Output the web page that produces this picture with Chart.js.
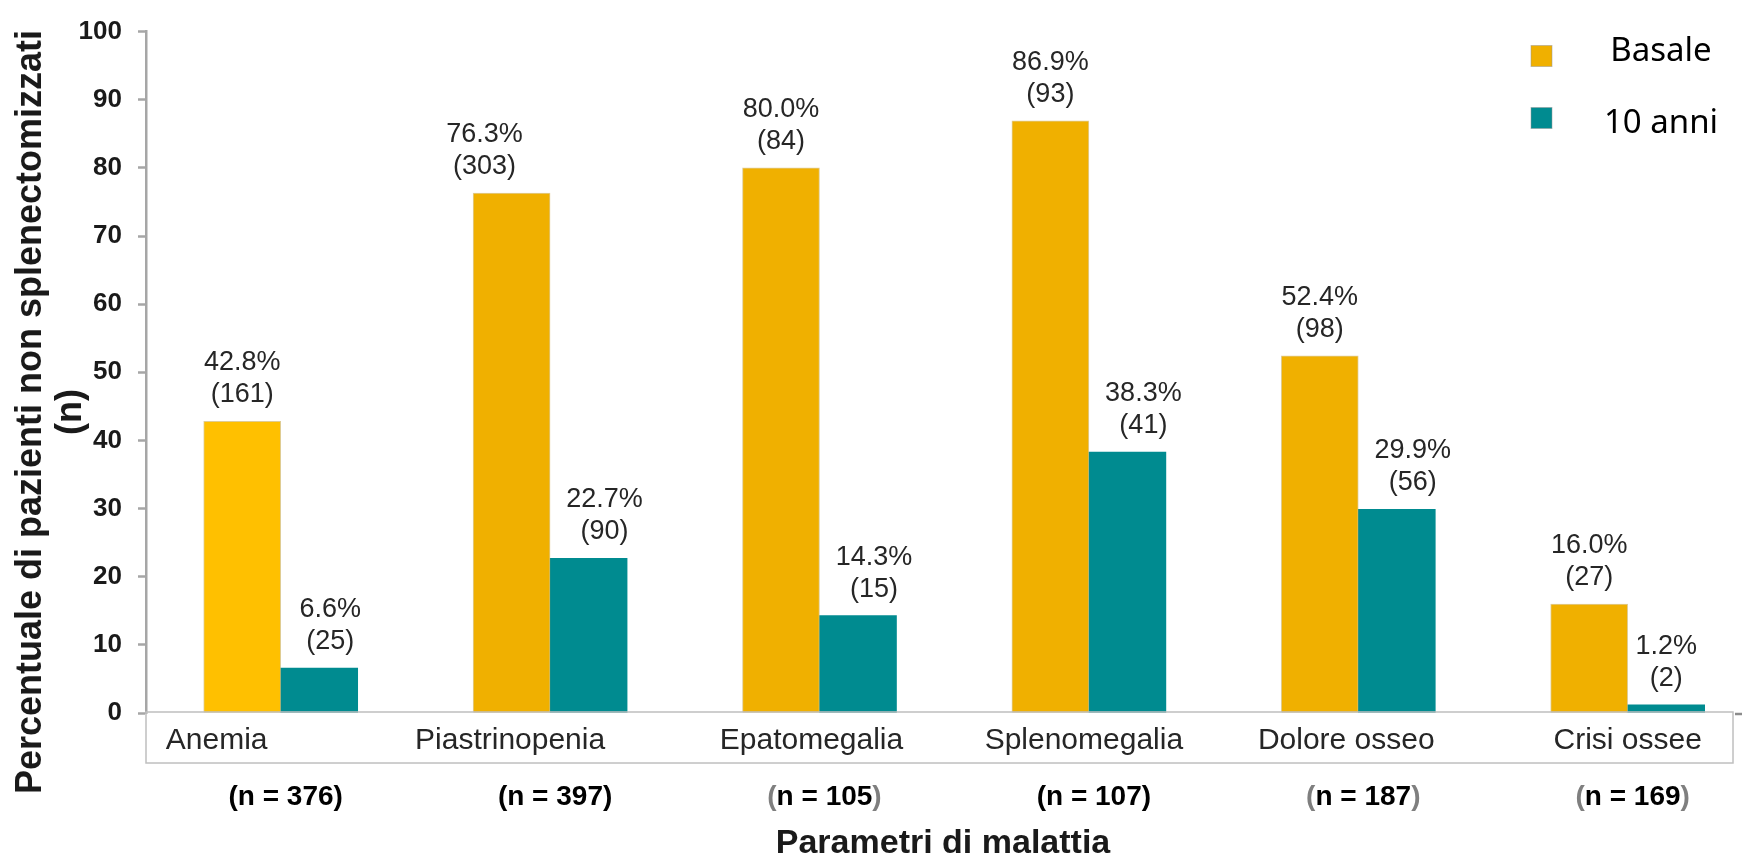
<!DOCTYPE html>
<html>
<head>
<meta charset="utf-8">
<script src="https://cdn.jsdelivr.net/npm/chart.js@4/dist/chart.umd.min.js"></script>
<style>
  html, body { margin: 0; padding: 0; background: #fff; }
  #wrap { width: 1742px; height: 856px; position: relative; }
</style>
</head>
<body>
<div id="wrap"><canvas id="myChart"></canvas></div>
<script>
// dati
const categories = ["Anemia", "Piastrinopenia", "Epatomegalia", "Splenomegalia", "Dolore osseo", "Crisi ossee"];
const groupN = [376, 397, 105, 107, 187, 169];
const basalePct = [42.8, 76.3, 80.0, 86.9, 52.4, 16.0];
const basaleN = [161, 303, 84, 93, 98, 27];
const anni10Pct = [6.6, 22.7, 14.3, 38.3, 29.9, 1.2];
const anni10N = [25, 90, 15, 41, 56, 2];
const yTicks = [0, 10, 20, 30, 40, 50, 60, 70, 80, 90, 100];
const seriesNames = ["Basale", "10 anni"];
const greyParen = [false, false, true, false, true, true];

const yellow = "#F0B000";
const teal = "#008B90";
const axisGrey = "#A6A6A6";
const txt = "#262626";

// piccoli aggiustamenti di posizione del testo (px)
const catShift = [-64, -40, -8, -5, -12, 0];
const labelShift = [[0, -27, 0, 0, 0, 0], [11, 16, 16, 16, 16, 0]];

const data = {
  datasets: [
    {
      label: seriesNames[0],
      data: basalePct.map((v, i) => ({ x: i, y: v })),
      backgroundColor: basalePct.map((v, i) => i === 0 ? "#FFC000" : yellow),
      borderColor: "rgba(200,170,80,0.6)",
      borderWidth: 1,
      barThickness: 77
    },
    {
      label: seriesNames[1],
      data: anni10Pct.map((v, i) => ({ x: i, y: v })),
      backgroundColor: teal,
      borderWidth: 0,
      barThickness: 77
    }
  ]
};

const extras = {
  id: "extras",
  afterDatasetsDraw(chart) {
    const ctx = chart.ctx;
    const area = chart.chartArea;
    const xs = chart.scales.x;
    ctx.save();

    // etichette sopra le barre
    ctx.fillStyle = txt;
    ctx.textAlign = "center";
    ctx.textBaseline = "alphabetic";
    ctx.font = "27px 'Liberation Sans', Arial, sans-serif";
    const pcts = [basalePct, anni10Pct];
    const ns = [basaleN, anni10N];
    chart.data.datasets.forEach((ds, d) => {
      chart.getDatasetMeta(d).data.forEach((bar, i) => {
        const x = bar.x + labelShift[d][i];
        ctx.fillText(pcts[d][i].toFixed(1) + "%", x, bar.y - 51);
        ctx.fillText("(" + ns[d][i] + ")", x, bar.y - 19);
      });
    });

    // riquadro delle categorie
    ctx.strokeStyle = "#BFBFBF";
    ctx.lineWidth = 1.5;
    ctx.strokeRect(area.left, area.bottom - 1, area.right - area.left, 51);
    ctx.strokeStyle = "#8C8C8C";
    ctx.lineWidth = 2.5;
    ctx.beginPath();
    ctx.moveTo(area.right + 2, area.bottom + 1);
    ctx.lineTo(area.right + 9, area.bottom + 1);
    ctx.stroke();

    ctx.font = "30px 'Liberation Sans', Arial, sans-serif";
    ctx.fillStyle = txt;
    categories.forEach((c, i) => {
      ctx.fillText(c, xs.getPixelForValue(i) + catShift[i], area.bottom + 36);
    });

    // (n = ...)
    ctx.font = "bold 28px 'Liberation Sans', Arial, sans-serif";
    ctx.textAlign = "left";
    groupN.forEach((n, i) => {
      const mid = "n = " + n;
      const wP = ctx.measureText("(").width;
      const wM = ctx.measureText(mid).width;
      const total = 2 * wP + wM;
      let x = xs.getPixelForValue(i) + 5 - total / 2;
      const y = area.bottom + 92;
      ctx.fillStyle = greyParen[i] ? "#7F7F7F" : "#000";
      ctx.fillText("(", x, y);
      ctx.fillStyle = "#000";
      ctx.fillText(mid, x + wP, y);
      ctx.fillStyle = greyParen[i] ? "#7F7F7F" : "#000";
      ctx.fillText(")", x + wP + wM, y);
    });

    // titolo asse x
    ctx.fillStyle = "#1a1a1a";
    ctx.textAlign = "center";
    ctx.font = "bold 34px 'Liberation Sans', Arial, sans-serif";
    ctx.fillText("Parametri di malattia", 943, 853);

    // titolo asse y
    ctx.translate(0, 412);
    ctx.rotate(-Math.PI / 2);
    ctx.font = "bold 36px 'Liberation Sans', Arial, sans-serif";
    ctx.textBaseline = "middle";
    ctx.fillText("Percentuale di pazienti non splenectomizzati", 0, 31);
    ctx.fillText("(n)", 0, 71);
    ctx.restore();

    // legenda
    ctx.save();
    const cols = [yellow, teal];
    const ly = [56, 118];
    const ty = [52, 124];
    ctx.font = "33px 'Noto Sans', sans-serif";
    ctx.textAlign = "center";
    ctx.textBaseline = "middle";
    seriesNames.forEach((s, i) => {
      ctx.fillStyle = cols[i];
      ctx.fillRect(1531, ly[i] - 10.5, 21, 21);
      ctx.strokeStyle = "rgba(150,150,150,0.5)";
      ctx.lineWidth = 1;
      ctx.strokeRect(1531, ly[i] - 10.5, 21, 21);
      ctx.fillStyle = "#000";
      ctx.fillText(s, 1661, ty[i]);
    });
    ctx.restore();
  }
};

const config = {
  type: "bar",
  data,
  options: {
    responsive: true,
    maintainAspectRatio: false,
    animation: false,
    layout: { padding: { left: 0, top: 26, right: 9, bottom: 143 } },
    plugins: {
      legend: { display: false },
      tooltip: { enabled: false }
    },
    scales: {
      x: {
        type: "linear",
        display: false,
        offset: false,
        min: -0.5,
        max: 5.391
      },
      y: {
        min: 0,
        max: 100,
        afterBuildTicks: (s) => { s.ticks = yTicks.map(v => ({ value: v })); },
        afterFit: (s) => { s.width = 146; },
        ticks: {
          padding: 16,
          color: "#1a1a1a",
          font: { family: "'Liberation Sans', Arial, sans-serif", weight: "bold", size: 26 }
        },
        grid: { drawOnChartArea: false, drawTicks: true, tickLength: 8, tickColor: axisGrey, tickWidth: 2.5 },
        border: { color: axisGrey, width: 2.5 }
      }
    }
  },
  plugins: [extras]
};

var myChart = new Chart(document.getElementById("myChart"), config);
</script>
</body>
</html>
